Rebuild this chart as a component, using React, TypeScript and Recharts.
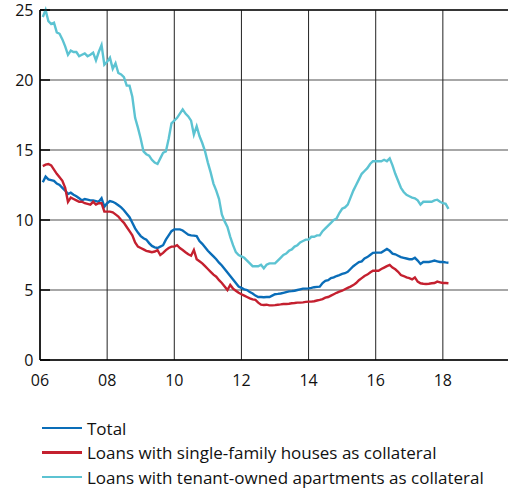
import { CartesianGrid, Line, LineChart, ReferenceLine, XAxis, YAxis } from "recharts"

// percent, monthly, Jan 2006 - Feb 2018
const totalValues = [
  12.7, 13.1, 12.9, 12.85, 12.8, 12.6, 12.5, 12.3, 12.1, 11.85,
  11.95, 11.8, 11.7, 11.55, 11.4, 11.5, 11.45, 11.4, 11.4, 11.35,
  11.3, 11.55, 10.95, 11.2, 11.35, 11.3, 11.2, 11.05, 10.9, 10.7,
  10.45, 10.2, 9.8, 9.4, 9.1, 8.85, 8.7, 8.6, 8.35, 8.15,
  8.05, 8.0, 8.1, 8.2, 8.6, 8.9, 9.2, 9.33, 9.33, 9.33,
  9.25, 9.1, 8.95, 8.9, 8.88, 8.85, 8.5, 8.3, 8.05, 7.8,
  7.6, 7.4, 7.2, 6.95, 6.75, 6.5, 6.25, 6.0, 5.75, 5.5,
  5.25, 5.15, 5.05, 5.0, 4.85, 4.75, 4.6, 4.5, 4.5, 4.48,
  4.5, 4.5, 4.6, 4.7, 4.72, 4.75, 4.8, 4.85, 4.9, 4.92,
  4.95, 5.0, 5.05, 5.1, 5.1, 5.12, 5.15, 5.2, 5.22, 5.24,
  5.5, 5.65, 5.7, 5.85, 5.9, 6.0, 6.07, 6.15, 6.2, 6.3,
  6.5, 6.7, 6.85, 7.0, 7.05, 7.25, 7.35, 7.5, 7.65, 7.67,
  7.67, 7.67, 7.8, 7.93, 7.8, 7.6, 7.55, 7.45, 7.35, 7.3,
  7.25, 7.2, 7.2, 7.3, 7.1, 6.86, 7.0, 7.0, 7.0, 7.05,
  7.1, 7.05, 7.0, 7.0, 6.97, 6.95,
]

const houseValues = [
  13.85, 13.95, 14.0, 13.9, 13.6, 13.3, 13.05, 12.8, 12.3, 11.3,
  11.6, 11.5, 11.4, 11.3, 11.3, 11.2, 11.15, 11.1, 11.3, 11.1,
  11.2, 11.2, 10.6, 10.6, 10.6, 10.55, 10.4, 10.25, 10.0, 9.8,
  9.5, 9.2, 8.9, 8.4, 8.1, 8.0, 7.9, 7.8, 7.75, 7.7,
  7.75, 7.85, 7.5, 7.65, 7.85, 8.0, 8.1, 8.1, 8.2, 8.0,
  7.86, 7.7, 7.55, 7.45, 7.86, 7.2, 7.05, 6.9, 6.7, 6.5,
  6.3, 6.1, 5.95, 5.7, 5.5, 5.25, 5.0, 5.36, 5.1, 4.95,
  4.8, 4.7, 4.6, 4.5, 4.4, 4.33, 4.29, 4.1, 3.95, 3.93,
  3.95, 3.9, 3.9, 3.92, 3.95, 3.97, 4.0, 4.0, 4.02, 4.05,
  4.07, 4.1, 4.1, 4.12, 4.15, 4.17, 4.17, 4.2, 4.25, 4.29,
  4.35, 4.45, 4.5, 4.6, 4.7, 4.8, 4.88, 4.95, 5.05, 5.15,
  5.24, 5.35, 5.5, 5.7, 5.85, 6.0, 6.1, 6.25, 6.38, 6.38,
  6.38, 6.5, 6.6, 6.7, 6.79, 6.6, 6.48, 6.3, 6.07, 6.0,
  5.9, 5.85, 5.76, 5.9, 5.6, 5.48, 5.45, 5.43, 5.45, 5.48,
  5.5, 5.6, 5.55, 5.5, 5.5, 5.48,
]

const apartmentValues = [
  24.5, 25.0, 24.2, 24.0, 24.1, 23.4, 23.3, 22.9, 22.4, 21.8,
  22.1, 22.0, 22.0, 21.7, 21.8, 21.9, 21.7, 21.8, 21.95, 21.4,
  22.0, 22.5, 21.1, 21.3, 21.6, 20.8, 21.2, 20.5, 20.4, 20.2,
  19.6, 19.6, 18.8, 17.3, 16.6, 15.8, 14.9, 14.7, 14.6, 14.3,
  14.1, 14.0, 14.4, 14.8, 14.9, 15.8, 16.9, 17.1, 17.3, 17.6,
  17.9, 17.6, 17.4, 17.1, 16.1, 16.7, 16.0, 15.5, 14.9, 14.1,
  13.4, 12.6, 12.1, 11.5, 10.4, 9.9, 9.5, 8.8, 8.2, 7.7,
  7.5, 7.4, 7.3, 7.1, 6.9, 6.7, 6.7, 6.7, 6.8, 6.55,
  6.8, 6.9, 6.9, 6.9, 7.1, 7.3, 7.5, 7.6, 7.8, 7.9,
  8.1, 8.2, 8.4, 8.5, 8.6, 8.6, 8.8, 8.8, 8.9, 8.9,
  9.2, 9.4, 9.6, 9.8, 10.0, 10.1, 10.5, 10.8, 10.9, 11.1,
  11.6, 12.1, 12.5, 12.9, 13.3, 13.5, 13.7, 14.0, 14.2, 14.2,
  14.2, 14.2, 14.3, 14.2, 14.4, 13.9, 13.3, 12.8, 12.3, 12.0,
  11.8, 11.7, 11.6, 11.55, 11.4, 11.1, 11.3, 11.3, 11.3, 11.3,
  11.4, 11.45, 11.3, 11.2, 11.15, 10.8,
]

const xTicks = [2006, 2008, 2010, 2012, 2014, 2016, 2018]
const yTicks = [0, 5, 10, 15, 20, 25]

const series = [
  { key: "total", name: "Total", color: "#0a6db8" },
  { key: "house", name: "Loans with single-family houses as collateral", color: "#c4202f" },
  { key: "apartment", name: "Loans with tenant-owned apartments as collateral", color: "#5cc3d2" },
]

const rows = totalValues.map((total, i) => ({
  t: 2006 + (i + 1) / 12,
  total,
  house: houseValues[i],
  apartment: apartmentValues[i],
}))

const font = "'Open Sans', Lato, sans-serif"
const plotLeft = 40

function YTick({ y, payload }: any) {
  return (
    <g>
      <line x1={plotLeft} x2={plotLeft + 10} y1={y} y2={y} stroke="#000" strokeWidth={1.5} />
      <text x={33.5} y={y + 6} textAnchor="end" fontSize={16} fontFamily={font} fill="#111">
        {payload.value}
      </text>
    </g>
  )
}

function XTick({ x, payload }: any) {
  return (
    <text x={x} y={386} textAnchor="middle" fontSize={16} fontFamily={font} fill="#111">
      {String(payload.value).slice(2)}
    </text>
  )
}

export default function App() {
  return (
    <div style={{ position: "relative", width: 508, height: 488, overflow: "hidden", background: "#fff" }}>
      <style>{`body { margin: 0; }`}</style>
      <LineChart width={510} height={400} data={rows} margin={{ top: 10, right: 0, bottom: 0, left: 0 }}>
        <CartesianGrid vertical={false} stroke="#8a8a8a" strokeWidth={1.3} />
        <CartesianGrid horizontal={false} stroke="#222" strokeWidth={1} />
        <ReferenceLine y={25} stroke="#111" strokeWidth={1.3} />
        <XAxis
          dataKey="t"
          type="number"
          domain={[2006, 2020]}
          ticks={xTicks}
          height={40}
          axisLine={{ stroke: "#000", strokeWidth: 1.5 }}
          tickLine={false}
          tick={<XTick />}
          interval={0}
        />
        <YAxis
          type="number"
          domain={[0, 25]}
          ticks={yTicks}
          width={40}
          axisLine={{ stroke: "#000", strokeWidth: 1.5 }}
          tickLine={false}
          tick={<YTick />}
          interval={0}
        />
        {series.map((s) => (
          <Line
            key={s.key}
            type="linear"
            dataKey={s.key}
            name={s.name}
            stroke={s.color}
            strokeWidth={2.4}
            dot={false}
            isAnimationActive={false}
          />
        ))}
      </LineChart>
      {series.map((s, i) => (
        <div
          key={s.key}
          style={{
            position: "absolute",
            left: 42,
            top: 428 + i * 24.5 - 12,
            height: 24,
            display: "flex",
            alignItems: "center",
            fontFamily: font,
            fontSize: 17,
            color: "#111",
            whiteSpace: "nowrap",
          }}
        >
          <span style={{ display: "inline-block", width: 40, height: 2.5, background: s.color, marginRight: 5 }} />
          {s.name}
        </div>
      ))}
    </div>
  )
}
